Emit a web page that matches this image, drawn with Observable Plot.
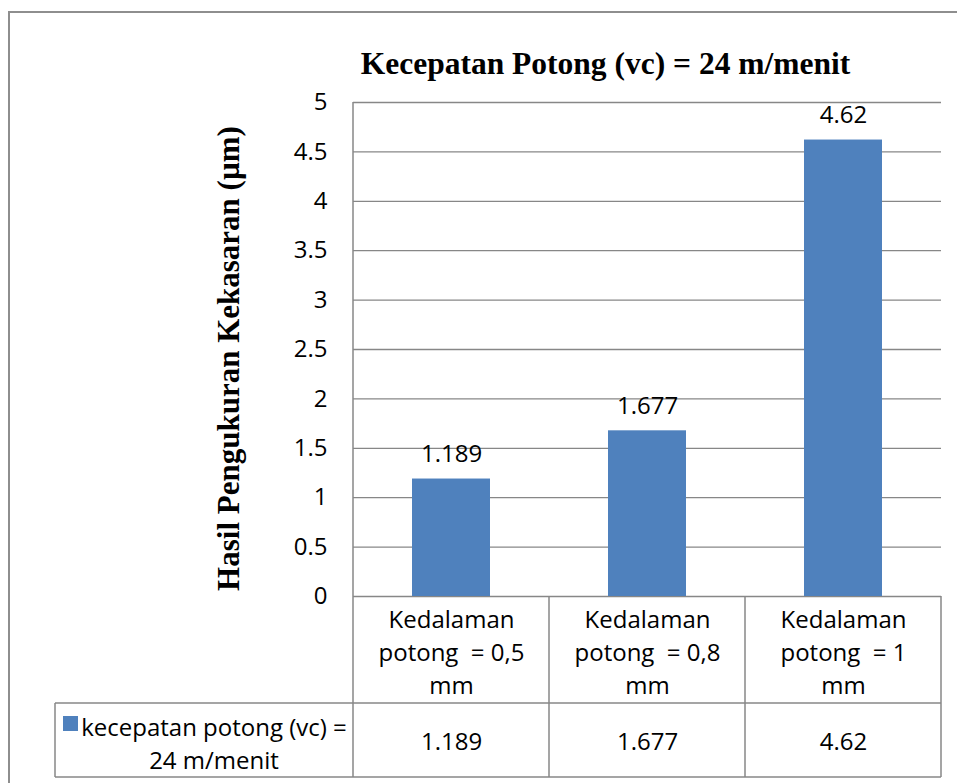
<!DOCTYPE html>
<html>
<head>
<meta charset="utf-8">
<script src="https://cdn.jsdelivr.net/npm/d3@7"></script>
<script src="https://cdn.jsdelivr.net/npm/@observablehq/plot@0.6"></script>
<style>
  html, body { margin: 0; padding: 0; background: #fff; }
  #wrap { position: relative; width: 957px; height: 783px; overflow: hidden; }
  #border { position: absolute; left: 8px; top: 11px; width: 1200px; height: 1200px;
            border: 2px solid #8e8e8e; box-sizing: border-box; }
  #chart { position: absolute; left: 0; top: 0; }
  #chart svg text { white-space: pre; }
</style>
</head>
<body>
<div id="wrap">
  <div id="border"></div>
  <div id="chart"></div>
</div>
<script>
// Surface roughness at cutting speed 24 m/min, for three depths of cut
const chartTitle = "Kecepatan Potong (vc) = 24 m/menit";
const yLabel = "Hasil Pengukuran Kekasaran (µm)";
const depths = [
  "Kedalaman\npotong  = 0,5\nmm",
  "Kedalaman\npotong  = 0,8\nmm",
  "Kedalaman\npotong  = 1\nmm"
];
const roughness = [1.189, 1.677, 4.62];
const seriesName = ["kecepatan potong (vc) =", "24 m/menit"];
const yTicks = [0, 0.5, 1, 1.5, 2, 2.5, 3, 3.5, 4, 4.5, 5];

const rows = depths.map((depth, i) => ({depth, value: roughness[i]}));

const sans = "'Open Sans', 'Noto Sans', sans-serif";
const serif = "'Liberation Serif', 'Times New Roman', serif";
const lineColor = "#878787";
const barFill = "#4F81BD";

const chart = Plot.plot({
  width: 957,
  height: 783,
  marginTop: 102,
  marginBottom: 187,
  marginLeft: 353,
  marginRight: 16,
  style: {fontFamily: sans, fontSize: "24px", color: "#000", background: "transparent", overflow: "visible"},
  x: {type: "band", domain: depths, paddingInner: 0.6, paddingOuter: 0.3, axis: null},
  y: {domain: [0, 5]},
  marks: [
    Plot.ruleY(yTicks, {stroke: lineColor, strokeWidth: 1.3}),
    Plot.axisY(yTicks, {tickSize: 0, tickPadding: 26, tickFormat: d => String(d), label: null, fill: "#000"}),
    Plot.barY(rows, {x: "depth", y: "value", fill: barFill}),
    // value labels above the bars
    Plot.text(rows, {x: "depth", y: "value", text: d => String(d.value), lineAnchor: "bottom", dy: -17, fill: "#000"}),
    // data table: category header row and value row
    Plot.text(rows, {x: "depth", text: "depth", frameAnchor: "bottom", lineAnchor: "top", dy: 8, lineHeight: 1.375, fill: "#000"}),
    Plot.text(rows, {x: "depth", text: d => String(d.value), frameAnchor: "bottom", lineAnchor: "top", dy: 136, fill: "#000"}),
    // chart title and vertical axis title
    Plot.text([chartTitle], {text: d => d, frameAnchor: "top", textAnchor: "middle", lineAnchor: "bottom", dx: -42, dy: -29,
      fontSize: 31.5, fontWeight: "bold", fontFamily: serif, fill: "#000"}),
    Plot.text([yLabel], {text: d => d, frameAnchor: "left", textAnchor: "middle", rotate: -90, dx: -124, dy: 9,
      fontSize: 31, fontWeight: "bold", fontFamily: serif, fill: "#000"})
  ]
});

document.getElementById("chart").appendChild(chart);

// Data table grid lines and legend key, placed on the chart's own x scale
const xs = chart.scale("x");
const ys = chart.scale("y");
const step = xs.step;
const bw = xs.bandwidth;
const centers = depths.map(d => xs.apply(d) + bw / 2);
const edges = [centers[0] - step / 2, ...centers.map(c => c + step / 2)];
const yTop = ys.apply(5);
const yZero = ys.apply(0);
const yRow = yZero + 107;
const yEnd = yZero + 181;
const legendLeft = 55;

const svg = d3.select(chart);
const g = svg.append("g").attr("stroke", lineColor).attr("stroke-width", 1.5).attr("fill", "none");
g.append("line").attr("x1", edges[0]).attr("x2", edges[0]).attr("y1", yTop).attr("y2", yEnd);
edges.slice(1).forEach(x => g.append("line").attr("x1", x).attr("x2", x).attr("y1", yZero).attr("y2", yEnd));
g.append("line").attr("x1", legendLeft).attr("x2", edges[3]).attr("y1", yRow).attr("y2", yRow);
g.append("line").attr("x1", legendLeft).attr("x2", edges[3]).attr("y1", yEnd).attr("y2", yEnd);
g.append("line").attr("x1", legendLeft).attr("x2", legendLeft).attr("y1", yRow).attr("y2", yEnd);

svg.append("rect").attr("x", 63).attr("y", yRow + 13).attr("width", 15).attr("height", 15).attr("fill", barFill);
const lt = svg.append("text").attr("font-family", sans).attr("font-size", 24).attr("fill", "#000")
  .attr("text-anchor", "middle");
seriesName.forEach((s, i) => lt.append("tspan").attr("x", 214).attr("y", yRow + 33 + i * 33).text(s));
</script>
</body>
</html>
